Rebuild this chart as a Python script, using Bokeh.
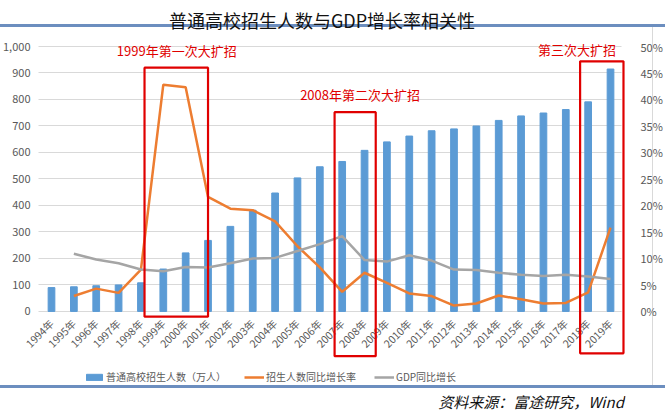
import math
from bokeh.plotting import figure
from bokeh.models import (Range1d, LinearAxis, FixedTicker, NumeralTickFormatter,
                          PrintfTickFormatter, Legend, LegendItem, BoxAnnotation,
                          Label)
from bokeh.embed import file_html
from bokeh.resources import INLINE

years = [str(y) + "年" for y in range(1994, 2020)]
enrollment = [90, 93, 97, 100, 108, 160, 221, 268, 321, 382, 447, 504, 546, 566,
              608, 640, 662, 682, 689, 700, 721, 738, 749, 762, 791, 915]
# growth rates start from 1995
enroll_growth = [2.9, 4.3, 3.5, 7.9, 42.8, 42.3, 21.6, 19.4, 19.1, 17.0, 12.3, 8.3,
                 3.7, 7.3, 5.4, 3.4, 2.9, 1.1, 1.5, 3.0, 2.3, 1.5, 1.6, 3.6, 15.8]
gdp_growth = [10.9, 9.8, 9.1, 7.9, 7.6, 8.4, 8.3, 9.1, 10.0, 10.1, 11.4, 12.7,
              14.2, 9.7, 9.4, 10.6, 9.6, 7.9, 7.8, 7.3, 6.9, 6.7, 6.9, 6.6, 6.1]
left_ticks = [0, 100, 200, 300, 400, 500, 600, 700, 800, 900, 1000]
right_ticks = [0, 5, 10, 15, 20, 25, 30, 35, 40, 45, 50]

idx = list(range(len(years)))
gidx = idx[1:]

FONT = "Noto Sans CJK SC"
BLUE = "#5b9bd5"
ORANGE = "#ed7d31"
GREY = "#a5a5a5"
RED = "#e00000"
TXT = "#595959"

ymin, ymax = -374, 1034
xmin, xmax = -1.476, 25.67
p = figure(frame_width=607, frame_height=373, output_backend="svg",
           toolbar_location=None,
           x_range=Range1d(xmin, xmax), y_range=Range1d(ymin, ymax),
           min_border_left=12, min_border_right=34, min_border_top=30,
           min_border_bottom=0)
p.outline_line_color = None
p.background_fill_color = None
p.border_fill_color = None
p.styles = {
    "background-image": "linear-gradient(#6c8ebf,#6c8ebf), "
                        "linear-gradient(#6c8ebf,#6c8ebf), "
                        "linear-gradient(#d9d9d9,#d9d9d9)",
    "background-size": "100% 3px, 100% 3px, 1px 361px",
    "background-position": "0 24px, 0 385px, 652px 25px",
    "background-repeat": "no-repeat",
}
p.title.text = "普通高校招生人数与GDP增长率相关性"
p.title.align = "center"
p.title.text_font = FONT
p.title.text_font_size = "18px"
p.title.text_font_style = "normal"
p.title.text_color = "#111111"
p.title.offset = 0
p.title.standoff = 9

p.extra_y_ranges = {"pct": Range1d(ymin / 20.0, ymax / 20.0)}

# x axis drawn just under the zero line
xa = p.xaxis[0]
xa.fixed_location = -139.6
xa.ticker = FixedTicker(ticks=idx)
xa.major_label_overrides = {i: years[i] for i in idx}
xa.major_label_orientation = math.pi / 4
xa.axis_line_color = None
xa.major_tick_line_color = None
xa.minor_tick_line_color = None
xa.major_label_text_font = FONT
xa.major_label_text_font_size = "10.5px"
xa.major_label_text_color = TXT
xa.major_label_standoff = -33

p.yaxis.ticker = FixedTicker(ticks=left_ticks)
p.yaxis.formatter = NumeralTickFormatter(format="0,0")
p.yaxis.axis_line_color = None
p.yaxis.major_tick_line_color = None
p.yaxis.minor_tick_line_color = None
p.yaxis.major_label_text_font = FONT
p.yaxis.major_label_text_font_size = "11px"
p.yaxis.major_label_text_color = TXT
p.yaxis.major_label_standoff = -18

ax_r = LinearAxis(y_range_name="pct", ticker=FixedTicker(ticks=right_ticks),
                  formatter=PrintfTickFormatter(format="%d%%"))
ax_r.axis_line_color = None
ax_r.major_tick_line_color = None
ax_r.minor_tick_line_color = None
ax_r.major_label_text_font = FONT
ax_r.major_label_text_font_size = "11px"
ax_r.major_label_text_color = TXT
ax_r.major_label_standoff = 9
p.add_layout(ax_r, "right")

p.xgrid.grid_line_color = None
p.ygrid.ticker = FixedTicker(ticks=left_ticks)
p.ygrid.cross_bounds = (-0.58, 25.5)
p.ygrid.grid_line_color = "#d9d9d9"
p.ygrid.grid_line_width = 1

bars = p.vbar(x=idx, top=enrollment, width=0.3, color=BLUE)
l1 = p.line(x=gidx, y=enroll_growth, y_range_name="pct", line_color=ORANGE,
            line_width=2.5)
l2 = p.line(x=gidx, y=gdp_growth, y_range_name="pct", line_color=GREY,
            line_width=2.5)

# highlight boxes
boxes = [(4.16, 7.0, 920, -20), (12.66, 14.5, 752, -169), (23.64, 25.58, 944, -158)]
for (l, r, t, b) in boxes:
    p.add_layout(BoxAnnotation(left=l, right=r, top=t, bottom=b, fill_color=None,
                               fill_alpha=0, line_color=RED, line_alpha=1,
                               line_width=2.2))

notes = [("1999年第一次大扩招", 5.6, 985), ("2008年第二次大扩招", 13.8, 819),
         ("第三次大扩招", 23.5, 989)]
for (t, x, y) in notes:
    p.add_layout(Label(x=x, y=y, text=t, text_align="center", text_baseline="middle",
                       text_color=RED, text_font=FONT, text_font_size="13px"))

legend = Legend(items=[LegendItem(label="普通高校招生人数（万人）", renderers=[bars]),
                       LegendItem(label="招生人数同比增长率", renderers=[l1]),
                       LegendItem(label="GDP同比增长", renderers=[l2])],
                orientation="horizontal", location=(66, 26),
                label_text_font=FONT, label_text_font_size="10px",
                label_text_color=TXT, glyph_width=20, glyph_height=8,
                label_standoff=2, spacing=18, border_line_color=None,
                padding=2, margin=0, background_fill_alpha=0)
p.add_layout(legend, "center")

p.add_layout(Label(x=25.6, y=-340, text="资料来源：富途研究，Wind",
                   text_align="right", text_baseline="middle", text_font=FONT,
                   text_font_size="15px", text_font_style="italic",
                   text_color="#111111"))

open("out.html", "w").write(file_html(p, INLINE))
